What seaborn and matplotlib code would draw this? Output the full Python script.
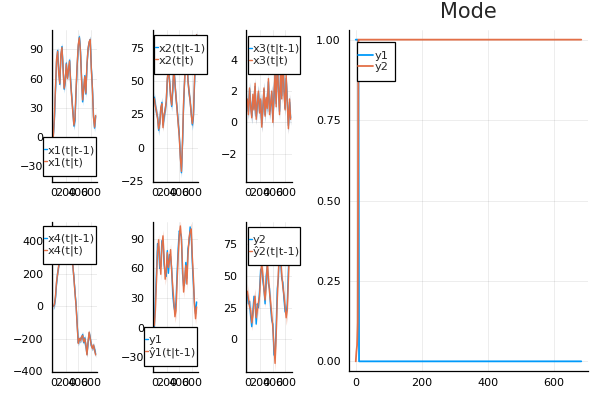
import numpy as np
import pandas as pd
import matplotlib
matplotlib.use("Agg")
import matplotlib.pyplot as plt
from matplotlib.patches import Rectangle
import seaborn as sns

BLUE = "#009AFA"
ORANGE = "#E36F47"

# time index of the filter output (every 17.5 steps)
t = np.arange(40) * 17.5

x1_pred = [2, 17, 47, 77, 89, 68, 54, 83, 93, 72, 49, 57, 76, 61, 68, 79, 57, 41, 27, 11,
           17, 47, 73, 93, 103, 89, 62, 36, 49, 63, 44, 73, 91, 97, 100, 72, 51, 22, 9, 21]
x1_filt = [0, 20, 50, 80, 88, 65, 55, 85, 92, 70, 50, 58, 75, 60, 70, 78, 55, 40, 25, 12,
           20, 50, 75, 95, 102, 88, 60, 38, 50, 62, 45, 75, 90, 98, 100, 70, 50, 20, 10, 22]
x2_pred = [38, 32, 26, 23, 13, 19, 29, 34, 17, 23, 29, 34, 51, 60, 51, 39, 31, 43, 61, 49,
           37, 29, 19, 9, -6, -19, 3, 32, 53, 73, 67, 51, 41, 35, 26, 17, 23, 47, 73, 85]
x2_filt = [37, 31, 27, 22, 14, 18, 30, 33, 15, 25, 28, 35, 52, 59, 50, 38, 32, 45, 60, 48,
           38, 28, 18, 8, -8, -18, 5, 35, 52, 72, 68, 50, 42, 35, 25, 18, 24, 50, 75, 85]
x3_pred = [1.3, 0.7, 2.1, 1.1, 0.4, 1.6, 0.9, 2.3, 0.4, 1.1, 1.9, 0.7, 1.4, -0.1, 0.9, 2.1,
           0.5, 1.5, 1.0, 2.6, 0.7, 1.1, 1.9, 0.2, 1.6, 3.1, 1.2, 3.8, 2.3, 0.7, 3.3, 1.7,
           4.3, 2.2, 0.9, 2.8, 1.3, -0.2, 1.3, 0.3]
x3_filt = [1.5, 0.5, 2.2, 1.0, 0.3, 1.8, 0.8, 2.5, 0.2, 1.2, 2.0, 0.6, 1.5, -0.3, 1.0, 2.2,
           0.4, 1.6, 0.9, 2.8, 0.5, 1.2, 2.0, 0.0, 1.8, 3.2, 1.0, 4.0, 2.2, 0.5, 3.5, 1.5,
           4.5, 2.0, 0.8, 3.0, 1.2, -0.4, 1.5, 0.2]
x4_pred = [0, 5, 50, 140, 205, 245, 305, 345, 395, 435, 445, 475, 455, 445, 415, 385, 325,
           285, 245, 175, 85, 5, -110, -225, -205, -205, -195, -175, -225, -195, -245, -295,
           -225, -165, -195, -245, -255, -245, -265, -295]
x4_filt = [0, 10, 60, 150, 200, 250, 300, 350, 400, 430, 450, 470, 460, 440, 420, 380, 330,
           280, 250, 170, 80, 0, -120, -230, -200, -210, -190, -180, -220, -200, -240, -300,
           -220, -160, -200, -240, -260, -240, -270, -300]
y1_meas = [-2, 28, 55, 85, 82, 60, 62, 88, 88, 64, 55, 52, 78, 55, 74, 72, 60, 34, 22, 16,
           26, 55, 80, 98, 96, 92, 55, 42, 45, 66, 50, 80, 86, 102, 95, 66, 45, 25, 14, 26]
y2_meas = [36, 28, 30, 18, 10, 22, 34, 30, 12, 28, 25, 38, 55, 56, 46, 40, 28, 50, 58, 44,
           40, 25, 15, 12, -12, -14, 10, 40, 48, 78, 62, 48, 45, 32, 22, 20, 28, 55, 70, 88]

# standard deviations of the ribbons
sd_pred = {"x1": 4, "x2": 4, "x3": 0.5, "x4": 20, "y1": 6, "y2": 6}
sd_filt = {"x1": 3, "x2": 3, "x3": 0.35, "x4": 15}

# mode probabilities
mode_t = [0, 2, 4, 6, 8, 10, 684]
mode_y1 = [1.0, 1.0, 1.0, 1.0, 0.99, 0.0, 0.0]
mode_y2 = [0.0, 0.03, 0.05, 0.12, 1.0, 1.0, 1.0]

sns.set_theme(style="white")
plt.rcParams["font.family"] = ["DejaVu Sans"]
plt.rcParams["axes.unicode_minus"] = True

fig = plt.figure(figsize=(6, 4), dpi=100)
W, H = 600, 400


def make_ax(l, r, top, bot):
    return fig.add_axes([l / W, 1 - bot / H, (r - l) / W, (bot - top) / H])


def style(ax, yticks, ylim, xticks=(0, 200, 400, 600), xlim=(-20.5, 704.5)):
    ax.set_xlim(*xlim)
    ax.set_ylim(*ylim)
    ax.set_xticks(xticks)
    ax.set_yticks(yticks)
    ax.grid(True, color="black", alpha=0.1, linewidth=0.5)
    for s in ["top", "right"]:
        ax.spines[s].set_visible(False)
    for s in ["left", "bottom"]:
        ax.spines[s].set_color("black")
        ax.spines[s].set_linewidth(0.9)
    ax.tick_params(axis="both", direction="in", length=3, width=0.8, labelsize=8,
                   colors="black")
    ax.tick_params(axis="y", pad=6)
    ax.tick_params(axis="x", pad=4)
    ax.set_xlabel("")
    ax.set_ylabel("")


def legend(ax, box, hl=0.3):
    # box = (left, top, right, bottom) in pixels; Plots-like frame drawn by hand
    l, top, r, bot = box
    ax.get_legend().remove()
    fig.patches.append(Rectangle((l / W, 1 - bot / H), (r - l) / W, (bot - top) / H,
                                 transform=fig.transFigure, facecolor="white",
                                 edgecolor="black", linewidth=0.9, zorder=4))
    h, lab = ax.get_legend_handles_labels()
    fig.legend(h, lab, loc="center left",
               bbox_to_anchor=((l + 0.5) / W, 1 - (top + bot) / 2 / H),
               bbox_transform=fig.transFigure, borderaxespad=0, borderpad=0,
               fontsize=8.2, handlelength=hl, handletextpad=0.1, labelspacing=0.1,
               frameon=False).set_zorder(5)


def state_panel(ax, name, pred, filt):
    pred = np.array(pred, dtype=float)
    filt = np.array(filt, dtype=float)
    ax.fill_between(t, pred - sd_pred[name], pred + sd_pred[name], color=BLUE,
                    alpha=0.4, linewidth=0)
    ax.fill_between(t, filt - sd_filt[name], filt + sd_filt[name], color=ORANGE,
                    alpha=0.4, linewidth=0)
    sns.lineplot(x=t, y=pred, ax=ax, color=BLUE, linewidth=1, label=f"{name}(t|t-1)")
    sns.lineplot(x=t, y=filt, ax=ax, color=ORANGE, linewidth=1, label=f"{name}(t|t)")


def meas_panel(ax, name, meas, pred):
    pred = np.array(pred, dtype=float)
    ax.fill_between(t, pred - sd_pred[name], pred + sd_pred[name], color=ORANGE,
                    alpha=0.3, linewidth=0)
    sns.lineplot(x=t, y=meas, ax=ax, color=BLUE, linewidth=1, label=name)
    sns.lineplot(x=t, y=pred, ax=ax, color=ORANGE, linewidth=1,
                 label="ŷ" + name[1:] + "(t|t-1)")


ax1 = make_ax(52, 97, 30, 182)
state_panel(ax1, "x1", x1_pred, x1_filt)
style(ax1, [-30, 0, 30, 60, 90], (-46.5, 110))
legend(ax1, (43, 137, 96, 176))

ax2 = make_ax(153, 198, 30, 182)
state_panel(ax2, "x2", x2_pred, x2_filt)
style(ax2, [-25, 0, 25, 50, 75], (-26, 88.6))
legend(ax2, (154, 35, 207, 74))

ax3 = make_ax(246, 292, 30, 182)
state_panel(ax3, "x3", x3_pred, x3_filt)
style(ax3, [-2, 0, 2, 4], (-3.8, 5.9))
legend(ax3, (248, 36, 300, 74))

ax4 = make_ax(52, 97, 222, 372)
state_panel(ax4, "x4", x4_pred, x4_filt)
style(ax4, [-400, -200, 0, 200, 400], (-405, 517))
legend(ax4, (43, 226, 96, 264))

ax5 = make_ax(153, 198, 222, 372)
meas_panel(ax5, "y1", y1_meas, x1_pred)
style(ax5, [-30, 0, 30, 60, 90], (-45, 107))
legend(ax5, (144, 327, 197, 366))

ax6 = make_ax(246, 292, 222, 372)
meas_panel(ax6, "y2", y2_meas, x2_pred)
style(ax6, [0, 25, 50, 75], (-25.8, 92.6))
legend(ax6, (248, 227, 300, 265))

axm = make_ax(349, 588, 30, 371)
sns.lineplot(x=mode_t, y=mode_y1, ax=axm, color=BLUE, linewidth=1.3, label="y1")
sns.lineplot(x=mode_t, y=mode_y2, ax=axm, color=ORANGE, linewidth=1.3, label="y2")
style(axm, [0, 0.25, 0.5, 0.75, 1.0], (-0.03, 1.03))
axm.set_yticklabels(["0.00", "0.25", "0.50", "0.75", "1.00"])
axm.tick_params(axis="x", pad=5)
axm.set_title("Mode", fontsize=15, pad=9)
legend(axm, (357, 42, 395, 81), hl=1.4)

fig.savefig("out.png", dpi=100)
